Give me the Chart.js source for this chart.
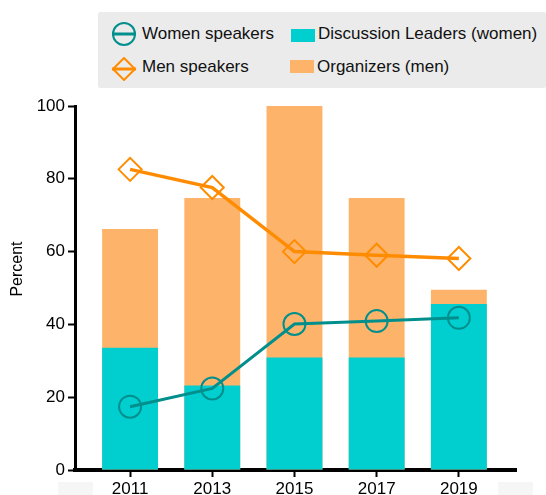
<!DOCTYPE html>
<html>
<head>
<meta charset="utf-8">
<script src="https://cdn.jsdelivr.net/npm/chart.js@4/dist/chart.umd.min.js"></script>
<style>
  html, body { margin: 0; padding: 0; background: #fff; }
  #wrap { position: relative; width: 546px; height: 495px; font-family: "Liberation Sans", Arial, sans-serif; }
  #miGrafico { position: absolute; left: 0; top: 0; }
  #legend { position: absolute; left: 98px; top: 12px; width: 448px; height: 76px; background: #ebebeb; border-radius: 2px; }
  .lab { position: absolute; font-size: 17px; line-height: 20px; color: #111; white-space: nowrap; }
  .ico { position: absolute; }
  #strip { position: absolute; left: 58px; top: 482px; width: 475px; height: 13px; background: #f6f6f6; }
  #strip2 { position: absolute; left: 93px; top: 482px; width: 405px; height: 13px; background: #fff; }
</style>
</head>
<body>
<div id="wrap">
  <div id="strip"></div><div id="strip2"></div>
  <canvas id="miGrafico" width="546" height="495"></canvas>
  <div id="legend"></div>
</div>
<script>
const years = [2011, 2013, 2015, 2017, 2019];
const womenSpeakers = [17.4, 22.4, 40.1, 40.9, 41.8];
const menSpeakers = [82.6, 77.6, 60, 59, 58.1];
const leadersWomen = [33.6, 23.2, 30.9, 30.9, 45.6];
const organizersMen = [66.2, 74.7, 100, 74.7, 49.5];
const yTicks = [0, 20, 40, 60, 80, 100];

const pts = arr => years.map((yr, i) => ({ x: yr, y: arr[i] }));

const tealLine = '#008f8c';
const orangeLine = '#ff8c00';
const tealBar = '#00cecf';
const orangeBar = '#fdb46a';

// "Percent" drawn by hand so it sits where the original has it
const yTitle = {
  id: 'yTitle',
  afterDraw(chart) {
    const ctx = chart.ctx;
    ctx.save();
    ctx.translate(18, 269);
    ctx.rotate(-Math.PI / 2);
    ctx.font = '16px "Liberation Sans", Arial, sans-serif';
    ctx.fillStyle = '#000';
    ctx.textAlign = 'center';
    ctx.textBaseline = 'middle';
    ctx.fillText('Percent', 0, 0);
    ctx.restore();
  }
};

document.addEventListener('DOMContentLoaded', () => {
  const canvas = document.getElementById('miGrafico');

  const chart = new Chart(canvas.getContext('2d'), {
    type: 'bar',
    data: {
      datasets: [
        {
          type: 'line', label: 'Women speakers', data: pts(womenSpeakers), order: 0,
          borderColor: tealLine, borderWidth: 3, tension: 0,
          pointStyle: 'circle', pointRadius: 11, pointBorderWidth: 2,
          pointBorderColor: tealLine, pointBackgroundColor: 'rgba(0,0,0,0)'
        },
        {
          type: 'line', label: 'Men speakers', data: pts(menSpeakers), order: 0,
          borderColor: orangeLine, borderWidth: 3.5, tension: 0,
          pointStyle: 'rectRot', pointRadius: 11.5, pointBorderWidth: 2,
          pointBorderColor: orangeLine, pointBackgroundColor: 'rgba(0,0,0,0)'
        },
        {
          label: 'Discussion Leaders (women)', data: pts(leadersWomen), order: 1,
          backgroundColor: tealBar, grouped: false, barPercentage: 0.68, categoryPercentage: 1
        },
        {
          label: 'Organizers (men)', data: pts(organizersMen), order: 2,
          backgroundColor: orangeBar, grouped: false, barPercentage: 0.68, categoryPercentage: 1
        }
      ]
    },
    options: {
      responsive: false,
      animation: false,
      layout: { padding: { top: 106, right: 30, left: 0, bottom: 0 } },
      plugins: { legend: { display: false }, tooltip: { enabled: false } },
      scales: {
        x: {
          type: 'linear', min: 2009.66, max: 2020.39, offset: false,
          afterBuildTicks: s => { s.ticks = years.map(v => ({ value: v })); },
          afterFit: s => { s.height = 25; },
          ticks: { callback: v => String(v), color: '#000', padding: 2,
                   font: { family: '"Liberation Sans", Arial, sans-serif', size: 17 } },
          grid: { drawOnChartArea: false, offset: false, tickLength: 7, tickWidth: 2, tickColor: '#000' },
          border: { color: '#000', width: 4 }
        },
        y: {
          min: 0, max: 100,
          afterBuildTicks: s => { s.ticks = yTicks.map(v => ({ value: v })); },
          afterFit: s => { s.width = 75; },
          ticks: { color: '#000', padding: 3,
                   font: { family: '"Liberation Sans", Arial, sans-serif', size: 17 } },
          grid: { drawOnChartArea: false, tickLength: 7, tickWidth: 2, tickColor: '#000' },
          border: { color: '#000', width: 3 }
        }
      }
    },
    plugins: [yTitle]
  });

  // legend in two columns, like the original
  const legend = document.getElementById('legend');
  const spots = [
    { icon: [12, 10], text: [44, 12] },
    { icon: [12, 45], text: [44, 45] },
    { icon: [193, 16], text: [220, 12] },
    { icon: [192, 47], text: [219, 45] }
  ];
  chart.data.datasets.forEach((ds, i) => {
    const s = spots[i];
    let svg;
    if (ds.type === 'line' && ds.pointStyle === 'circle') {
      svg = `<svg width="28" height="24"><circle cx="14" cy="12" r="11" fill="none" stroke="${ds.borderColor}" stroke-width="2"/>` +
            `<line x1="2" y1="12" x2="26" y2="12" stroke="${ds.borderColor}" stroke-width="3"/></svg>`;
    } else if (ds.type === 'line') {
      svg = `<svg width="28" height="24"><path d="M14 1 L25 12 L14 23 L3 12 Z" fill="none" stroke="${ds.borderColor}" stroke-width="2"/>` +
            `<line x1="2" y1="12" x2="26" y2="12" stroke="${ds.borderColor}" stroke-width="3"/></svg>`;
    } else {
      svg = `<svg width="24" height="13"><rect x="0" y="0" width="24" height="13" fill="${ds.backgroundColor}"/></svg>`;
    }
    const ic = document.createElement('div');
    ic.className = 'ico';
    ic.style.left = s.icon[0] + 'px';
    ic.style.top = s.icon[1] + 'px';
    ic.innerHTML = svg;
    legend.appendChild(ic);
    const t = document.createElement('div');
    t.className = 'lab';
    t.style.left = s.text[0] + 'px';
    t.style.top = s.text[1] + 'px';
    t.textContent = ds.label;
    legend.appendChild(t);
  });
});
</script>
</body>
</html>
